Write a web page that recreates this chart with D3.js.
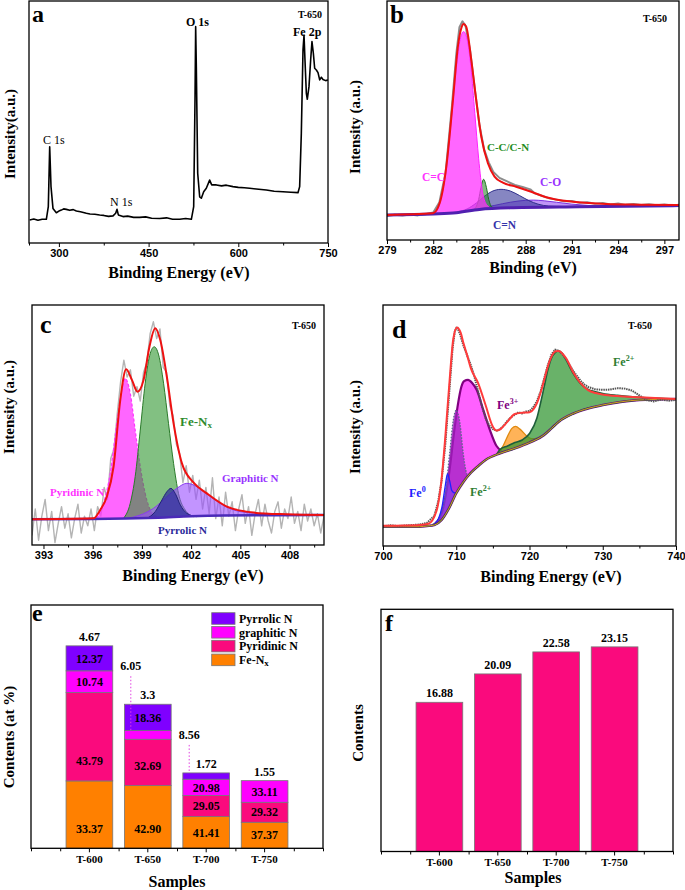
<!DOCTYPE html>
<html>
<head>
<meta charset="utf-8">
<script src="https://cdn.jsdelivr.net/npm/d3@7"></script>
<style>
body { margin: 0; background: #fff; }
svg { display: block; }
text { font-family: "Liberation Serif", "Times New Roman", serif; font-weight: bold; }
.xaxis .tick text { font-family: "Liberation Sans", Arial, sans-serif; font-size: 11px; font-weight: bold; }
.cat .tick text { font-family: "Liberation Serif", serif; font-size: 11px; font-weight: bold; }
</style>
</head>
<body>
<div id="fig"></div>
<script>
// ---------- data ----------
// a: survey spectrum [eV, intensity]
var surveyA = [[251.1,9.5],[258,9.9],[265,9.4],[272,9.8],[279,9.8],[282.3,15],[284.6,39.8],[286.8,23.3],[290.1,14.3],[295.7,12.5],[300,13.2],[304.1,13.6],[308,14.1],[312.4,13.9],[318,13.5],[324,13.8],[329.2,13.2],[336,12.9],[345.9,12.3],[352,12],[360,11.9],[368.2,11.6],[375,11.4],[383,11],[390.5,11.2],[394.9,12.3],[397.2,13.9],[399.4,11.6],[407.2,10.9],[415,11.1],[425,10.6],[435.1,10.6],[445,10.8],[455,10.2],[468.5,10.1],[480,10.4],[490,9.8],[502,9.8],[512,10.1],[521.5,9.8],[525.4,15],[527.6,59.1],[528.7,89.4],[529.8,72.9],[532.1,28.8],[535.4,19.1],[538.2,18.5],[542.1,21.2],[546.5,22.6],[552.1,26],[555.5,24],[563.3,24],[572,23.6],[580,23.9],[591.1,23.3],[600,23],[610,22.8],[619,22.6],[630,22.3],[646.9,21.9],[660,21.4],[674.7,21.2],[688,21],[699.8,20.8],[702.6,23.3],[705.4,45.3],[708.2,79.8],[709.9,85.9],[711.5,75.6],[713.8,61.8],[715.4,59.4],[718.2,64.6],[721,75.6],[723.2,83.2],[725.5,78.4],[727.7,72.2],[730.5,71.5],[733.3,70.4],[736.1,67.4],[738.9,68.5],[741.6,67.6],[746.1,67.1],[750,67.4]];

// b: C 1s
var rawB = [[279,10],[279.5,10.6],[280,10.2],[280.5,10.7],[281,10.3],[281.5,10.8],[282,11.5],[282.4,15.8],[282.8,28],[283.2,55],[283.5,78],[283.7,89],[283.9,91.5],[284.1,89.5],[284.4,79],[284.7,63],[285,48],[285.3,38],[285.6,32.5],[285.9,28.5],[286.3,26],[286.8,24.5],[287.3,23],[287.8,22.2],[288.3,21.2],[288.6,19.5],[289,18.6],[289.5,17.5],[290,16.9],[290.5,16.2],[291,16.3],[291.5,15.6],[292,15.8],[292.5,15.2],[293,15.5],[293.5,14.9],[294,15.3],[294.5,14.7],[295,15.1],[295.5,14.6],[296,15],[296.5,14.5],[297,14.9],[297.5,14.4],[298,14.8]];
var fitB = [[279,10.5],[281.98,11.2],[282.41,15.3],[282.85,30.7],[283.28,58.6],[283.6,80.9],[283.82,88.6],[283.97,90.4],[284.14,89.3],[284.47,75.3],[284.79,58.6],[285.12,43.2],[285.55,32.1],[285.98,26.5],[286.52,24],[287.38,22.3],[288.36,20.2],[289.33,17.9],[291.06,16],[293.22,15.1],[295.38,14.8],[298,14.6]];
var bgB = [[279,10.5],[282,10.9],[283.5,11.4],[285,12.8],[287.2,13.5],[291.5,13.9],[298,14.4]];
var ccB = [[282,11],[282.3,13],[282.6,20],[282.9,33],[283.2,52],[283.5,72],[283.75,84],[283.97,87.2],[284.2,84],[284.45,72],[284.7,53],[284.95,34],[285.2,20],[285.5,14.5],[285.8,13.3]];
var ccnB = [[284.5,12.3],[284.75,13.5],[284.95,17],[285.1,22],[285.27,25.4],[285.45,22],[285.6,17],[285.8,13.8],[286.1,13.2]];
var cnB = [[283,11.2],[283.6,11.8],[284.2,13],[284.8,15.5],[285.3,18.2],[285.8,20.3],[286.4,21.2],[287,20.5],[287.6,18.6],[288.2,16.5],[288.8,15],[289.5,14.2],[290.5,14],[291.5,13.9]];
var coB = [[284,12],[285,13.2],[286,14.5],[287,15.8],[288,16.6],[288.5,16.7],[289.2,16.4],[290,15.8],[291,15],[292,14.5],[293,14.2],[294,14.3],[295.5,14.5]];

// c: N 1s
var rawC = [[392.3,4],[392.5,15],[392.7,2],[392.9,12],[393.1,19],[393.3,6],[393.5,14],[393.7,1],[393.9,9],[394.1,16],[394.3,7],[394.5,13],[394.7,3],[394.9,11],[395.1,17],[395.3,5],[395.5,12],[395.7,8],[395.9,15],[396.1,6],[396.3,16],[396.5,12],[396.7,24],[396.9,19],[397.1,36],[397.3,40],[397.5,55],[397.7,68],[397.9,77],[398.1,70],[398.3,73],[398.5,62],[398.7,66],[398.9,60],[399.1,72],[399.3,76],[399.5,88],[399.7,93],[399.9,86],[400.1,90],[400.3,74],[400.5,72],[400.7,58],[400.9,54],[401.1,42],[401.3,38],[401.5,26],[401.7,33],[401.9,22],[402.1,29],[402.3,19],[402.5,27],[402.7,15],[402.9,24],[403.1,13],[403.3,28],[403.5,11],[403.7,20],[403.9,8],[404.1,22],[404.3,12],[404.5,18],[404.7,6],[404.9,15],[405.1,21],[405.3,9],[405.5,16],[405.7,4],[405.9,13],[406.1,19],[406.3,8],[406.5,17],[406.7,10],[406.9,5],[407.1,14],[407.3,18],[407.5,7],[407.7,15],[407.9,11],[408.1,20],[408.3,9],[408.5,14],[408.7,6],[408.9,17],[409.1,10],[409.3,15],[409.5,8],[409.7,13],[409.9,5],[410.1,12]];
var fitC = [[392.29,10.7],[396.05,11.1],[396.46,14.6],[396.86,20.1],[397.27,32.6],[397.68,60.4],[398.04,73.2],[398.39,68.8],[398.73,63.9],[399.1,68.8],[399.46,82.6],[399.81,90.3],[400.12,85.4],[400.52,70.1],[400.93,50.7],[401.44,34],[402.15,26],[402.96,21.5],[404.18,16],[405.81,13.5],[407.84,12.8],[410.12,12.5]];
var bgC = [[392.3,10.7],[396,10.8],[398,11],[400,11.4],[402,12],[404,12.3],[410.1,12.5]];
var pyridinicC = [[396.25,11.1],[396.66,17.4],[397.07,29.9],[397.47,50.7],[397.78,64.6],[397.98,69.4],[398.29,63.2],[398.59,47.9],[398.9,32.6],[399.2,21.5],[399.51,14.6],[399.91,11.8]];
var fenxC = [[397.88,11.1],[398.29,17.4],[398.59,28.5],[398.9,47.9],[399.2,67.4],[399.51,79.9],[399.75,82.6],[400.02,79.2],[400.32,67.4],[400.62,50.7],[400.93,34],[401.23,21.5],[401.64,14.6],[402.15,11.8]];
var pyrrolicC = [[399.3,11.1],[399.81,13.9],[400.22,18.75],[400.52,22.2],[400.77,23.6],[401.03,21.5],[401.34,16.7],[401.74,13.2],[402.35,11.8]];
var graphiticC = [[398.08,11.1],[398.9,12.5],[399.71,15.3],[400.52,20.1],[401.13,23.6],[401.74,25.7],[402.35,24.3],[402.96,21.25],[403.77,17.4],[404.59,14.6],[405.81,13.2],[407.43,12.5]];

// d: Fe 2p
var rawD = [[700,8.2],[701,8.6],[702,8.3],[703,8.5],[704,8.7],[705,8.9],[706,9.6],[707,12.5],[707.5,18],[708,27],[708.5,42],[709,62],[709.5,82],[709.8,89],[710.1,91],[710.5,88],[711,83],[711.5,79],[712,75],[712.5,70],[713,64],[713.5,58],[714,53],[714.5,50],[715,48.5],[715.5,47.8],[716,48.5],[716.5,50],[717,52],[717.5,53.5],[718,54.5],[718.5,55.5],[719,55],[719.5,55.8],[720,56],[720.5,57.5],[721,60],[721.5,64],[722,69.5],[722.5,75],[723,79.5],[723.5,81.5],[724,81],[724.5,79.5],[725,77.5],[725.5,75],[726,72.5],[726.5,70.5],[727,68.5],[727.5,67],[728,66],[729,65],[730,64.8],[731,64.9],[732,65.5],[733,65.3],[734,64.5],[735,62.5],[736,60.5],[737,60],[738,60.8],[739,60.3],[740,60.6]];
var fitD = [[700,8.4],[703,8.5],[705,8.7],[706.2,9.2],[707.3,14.5],[707.9,25],[708.5,45],[709.1,69],[709.6,86],[710.1,90.7],[710.6,88.5],[711,84],[711.5,79],[712,73.7],[713,67.5],[714,58.5],[715,49.5],[715.5,47.9],[716,48.4],[717,51.6],[718,54.8],[719,55.3],[720,55.5],[720.6,57],[721,59.2],[721.5,63.5],[722,68.9],[722.5,74.5],[723,78.6],[723.6,80.8],[724,80.9],[724.5,79.8],[725,77.9],[726,71.9],[727,67.5],[728,64.7],[729,63.5],[730,62.9],[732,62.2],[735,61.7],[740,61]];
var bgD = [[700,8],[705,8],[706,8.3],[707,8.7],[708,10.8],[709,15.6],[710,21.9],[711,26.7],[712,30.4],[713,33.2],[714,35.7],[716,38.5],[718,40.5],[720,42.9],[722,46.1],[723,48.8],[724,51.6],[726,55],[728,57.1],[730,58.5],[735,60.6],[740,61]];
var fe0D = [[707,9.2],[707.6,11.5],[708.1,17],[708.5,25],[708.8,29.9],[709.1,27],[709.4,23],[709.8,22],[710.2,22.5]];
var fe2aD = [[706.8,9],[707.75,12.2],[708.45,20.5],[709.1,38.5],[709.6,52.3],[710,56.4],[710.5,51],[710.95,38.5],[711.3,31.5],[711.6,28.5]];
var fe3D = [[707,9],[708,13.6],[708.9,27.4],[709.8,49.5],[710.25,59.2],[710.7,66.1],[711.1,68.5],[711.6,68.9],[712.2,67.5],[712.8,64.7],[713.7,56.4],[714.6,48.1],[715.5,41.5],[716.2,39.4]];
var satD = [[715.5,38.3],[716.3,41],[717,45.5],[717.6,48.8],[718.1,49.6],[718.7,48.5],[719.5,46],[720.3,44.5],[721,44.6],[722,46.1]];
var fe2bD = [[715.5,37.8],[716,40.1],[717,41.5],[718,42.9],[719,44],[720,46.7],[721,53],[721.5,59.2],[722,66.1],[722.5,73],[723,77.9],[723.5,80.2],[724,80.9],[724.5,79.9],[725,77.2],[726,71.4],[727,67.2],[728,65],[729,64],[730,63.3],[732,62.5],[735,61.7],[740,61]];

// e: N species, bar heights (at %) and printed labels
var samples = ["T-600", "T-650", "T-700", "T-750"];
var nKeys = ["feNx", "pyridinic", "graphitic", "pyrrolic"];
var feNx = [33.37, 31.05, 15.7, 12.9];
var pyridinic = [43.79, 22.96, 10.4, 9.9];
var graphitic = [10.74, 4.29, 8.1, 10.7];
var pyrrolic = [12.37, 13.05, 3.14, 0];
var feNxLbl = ["33.37", "42.90", "41.41", "37.37"];
var pyridinicLbl = ["43.79", "32.69", "29.05", "29.32"];
var graphiticLbl = ["10.74", "", "20.98", "33.11"];
var pyrrolicLbl = ["12.37", "18.36", "", ""];
var topLbl = ["4.67", "3.3", "1.72", "1.55"];
var leaderLbl = ["", "6.05", "8.56", ""];
var leaderKey = ["", "graphitic", "pyrrolic", ""];
var legendNames = ["Pyrrolic N", "graphitic N", "Pyridinic N", "Fe-Nx"];

// f
var contentsF = [16.88, 20.09, 22.58, 23.15];

// ---------- drawing ----------
var svg = d3.select("#fig").append("svg").attr("width", 685).attr("height", 890);
var defs = svg.append("defs");
var uid = 0;

function panel(box, dom, yTop) {
  var p = { box: box };
  p.x = d3.scaleLinear().domain(dom).range([box[0], box[2]]);
  p.y = d3.scaleLinear().domain([0, yTop || 100]).range([box[3], box[1]]);
  var id = "clip" + (uid++);
  defs.append("clipPath").attr("id", id).append("rect")
    .attr("x", box[0]).attr("y", box[1]).attr("width", box[2] - box[0]).attr("height", box[3] - box[1]);
  p.g = svg.append("g").attr("clip-path", "url(#" + id + ")");
  return p;
}

function frame(p) {
  svg.append("rect").attr("x", p.box[0]).attr("y", p.box[1])
    .attr("width", p.box[2] - p.box[0]).attr("height", p.box[3] - p.box[1])
    .attr("fill", "none").attr("stroke", "#000").attr("stroke-width", 1.3);
}

function energyAxis(p, majors, minors) {
  svg.append("g").attr("class", "xaxis").attr("transform", "translate(0," + p.box[3] + ")")
    .call(d3.axisBottom(p.x).tickValues(minors).tickSize(2.5).tickFormat(""))
    .call(function (g) { g.select(".domain").remove(); });
  svg.append("g").attr("class", "xaxis").attr("transform", "translate(0," + p.box[3] + ")")
    .call(d3.axisBottom(p.x).tickValues(majors).tickSize(4).tickPadding(2).tickFormat(d3.format("d")))
    .call(function (g) { g.select(".domain").remove(); });
}

function txt(s, x, y, size, color, anchor, weight) {
  return svg.append("text").attr("x", x).attr("y", y)
    .attr("text-anchor", anchor || "start")
    .style("font-size", size + "px").style("fill", color || "#000")
    .style("font-weight", weight || "bold").text(s);
}

function ytitle(s, x, y, size) {
  svg.append("text").attr("transform", "translate(" + x + "," + y + ") rotate(-90)")
    .attr("text-anchor", "middle").attr("dominant-baseline", "central")
    .style("font-size", size + "px").text(s);
}

function drawLine(p, pts, color, width, curve, dash) {
  p.g.append("path").datum(pts)
    .attr("d", d3.line().x(function (d) { return p.x(d[0]); }).y(function (d) { return p.y(d[1]); })
      .curve(curve || d3.curveLinear))
    .attr("fill", "none").attr("stroke", color).attr("stroke-width", width)
    .attr("stroke-dasharray", dash || null).attr("stroke-linejoin", "round");
}

function comp(p, bg, pts, fill, op, stroke, sw, dash) {
  var base = d3.scaleLinear().domain(bg.map(function (d) { return d[0]; }))
    .range(bg.map(function (d) { return d[1]; })).clamp(true);
  p.g.append("path").datum(pts)
    .attr("d", d3.area().x(function (d) { return p.x(d[0]); })
      .y0(function (d) { return p.y(base(d[0])); })
      .y1(function (d) { return p.y(d[1]); }).curve(d3.curveMonotoneX))
    .attr("fill", fill).attr("fill-opacity", op).attr("stroke", "none");
  if (stroke) drawLine(p, pts, stroke, sw, d3.curveMonotoneX, dash);
}

// ----- a -----
var pa = panel([29, 1, 328, 243], [250, 750]);
drawLine(pa, surveyA, "#000", 1.6);
frame(pa);
energyAxis(pa, [300, 450, 600, 750], [250, 375, 525, 675]);
txt("a", 32, 22, 24, "#000");
txt("T-650", 298, 18, 10);
txt("O 1s", 186, 26, 12);
txt("Fe 2p", 293, 36, 12);
txt("C 1s", 43, 144, 12, "#000", "start", "normal");
txt("N 1s", 110, 206, 12, "#000", "start", "normal");
txt("Binding Energy (eV)", 179, 278, 16, "#000", "middle");
ytitle("Intensity(a.u.)", 10, 134, 15);

// ----- b -----
var pb = panel([387, 1, 679, 240], [279, 297.95]);
drawLine(pb, rawB, "#8c8c8c", 2);
comp(pb, bgB, coB, "#8a3cf0", 0.55, "#7a30e0", 1);
comp(pb, bgB, cnB, "#35359a", 0.6, "#2f2f8a", 1);
comp(pb, bgB, ccnB, "#2e8b2e", 0.6, "#1f6f1f", 1);
comp(pb, bgB, ccB, "#ff33ff", 0.75, "#ff22ff", 1);
drawLine(pb, bgB, "#5020b0", 3, d3.curveMonotoneX);
drawLine(pb, fitB, "#ee1111", 2, d3.curveMonotoneX);
frame(pb);
energyAxis(pb, [279, 282, 285, 288, 291, 294, 297], [280.5, 283.5, 286.5, 289.5, 292.5, 295.5]);
txt("b", 390, 23, 25);
txt("T-650", 643, 22, 10);
txt("C=C", 422, 181, 11.5, "#ff33ff");
txt("C-C/C-N", 487, 151, 11, "#228b22");
txt("C-O", 540, 186, 11.5, "#9933ff");
txt("C=N", 493, 229, 11.5, "#3333aa");
txt("Binding (eV)", 533, 273, 16, "#000", "middle");
ytitle("Intensity (a.u.)", 355, 127, 15);

// ----- c -----
var pc = panel([32, 305, 324, 545], [392.3, 410.1]);
drawLine(pc, rawC, "#b4b4b4", 1.4);
comp(pc, bgC, pyridinicC, "#ff33ff", 0.75, "#ff33ff", 1.2, "3,2");
comp(pc, bgC, fenxC, "#2f962f", 0.6, "#2a7a2a", 1);
comp(pc, bgC, graphiticC, "#9a4cff", 0.6, "#8a3cf0", 1);
comp(pc, bgC, pyrrolicC, "#2a2a9a", 0.7, "#22227a", 1);
drawLine(pc, bgC, "#4a2ab8", 2.5, d3.curveMonotoneX);
drawLine(pc, fitC, "#ee1111", 2, d3.curveMonotoneX);
frame(pc);
energyAxis(pc, [393, 396, 399, 402, 405, 408], [394.5, 397.5, 400.5, 403.5, 406.5, 409.5]);
txt("c", 40, 333, 26);
txt("T-650", 292, 329, 10);
var fenxLabel = txt("Fe-N", 180, 426, 13, "#2e8b2e");
fenxLabel.append("tspan").attr("dy", 2).style("font-size", "9px").text("x");
txt("Graphitic N", 222, 482, 11, "#9933ff");
txt("Pyridinic N", 50, 496, 11, "#ff33ff");
txt("Pyrrolic N", 158, 534, 11, "#2a2a9a");
txt("Binding Energy (eV)", 193, 581, 16, "#000", "middle");
ytitle("Intensity (a.u.)", 9, 407, 15);

// ----- d -----
var pd = panel([383, 305, 676, 546], [700, 740]);
comp(pd, bgD, fe3D, "#ff44ff", 0.85, "#800080", 2.2);
comp(pd, bgD, fe2aD, "#a020c0", 0.75, "#5a6a8a", 1.3, "1.5,1.5");
comp(pd, bgD, fe0D, "#5050ff", 0.35, "#2020ff", 1.3);
comp(pd, bgD, satD, "#ff9a20", 0.75, "#e08a10", 1.3);
comp(pd, bgD, fe2bD, "#2f942f", 0.72, "#1e5e3a", 1.6);
drawLine(pd, bgD, "#7a108a", 2.6, d3.curveMonotoneX);
drawLine(pd, bgD, "#1e5e3a", 1.6, d3.curveMonotoneX);
drawLine(pd, bgD, "#f0a020", 0.9, d3.curveMonotoneX);
drawLine(pd, rawD, "#555", 2, d3.curveLinear, "1.5,0.8");
drawLine(pd, fitD, "#ff3b3b", 2, d3.curveMonotoneX);
frame(pd);
energyAxis(pd, [700, 710, 720, 730, 740], [705, 715, 725, 735]);
txt("d", 392, 338, 26);
txt("T-650", 628, 329, 10);
function ion(base, sup, x, y, color) {
  var t = txt(base, x, y, 12, color);
  t.append("tspan").attr("dy", -5).style("font-size", "8px").text(sup);
}
ion("Fe", "2+", 613, 366, "#2e7d32");
ion("Fe", "3+", 497, 409, "#800080");
ion("Fe", "0", 409, 497, "#2020ff");
ion("Fe", "2+", 470, 496, "#2e7d32");
txt("Binding Energy (eV)", 551, 582, 16, "#000", "middle");
ytitle("Intensity (a.u.)", 355, 427, 15);

// ----- e -----
var boxE = [31, 605, 323, 848.3];
var xE = d3.scaleBand().domain(samples).range([boxE[0], boxE[2]]).paddingInner(0.2).paddingOuter(0.6);
var yE = d3.scaleLinear().domain([0, 120.5]).range([boxE[3], boxE[1]]);
var series = { feNx: feNx, pyridinic: pyridinic, graphitic: graphitic, pyrrolic: pyrrolic };
var labels = { feNx: feNxLbl, pyridinic: pyridinicLbl, graphitic: graphiticLbl, pyrrolic: pyrrolicLbl };
var colors = { feNx: "#ff8000", pyridinic: "#fa0a7d", graphitic: "#ff00ff", pyrrolic: "#7f00ff" };
var rows = samples.map(function (s, i) {
  var r = { sample: s };
  nKeys.forEach(function (k) { r[k] = series[k][i]; });
  return r;
});
var stacked = d3.stack().keys(nKeys)(rows);
var gE = svg.append("g");
stacked.forEach(function (layer) {
  gE.selectAll(null).data(layer).enter().append("rect")
    .attr("x", function (d) { return xE(d.data.sample); })
    .attr("width", xE.bandwidth())
    .attr("y", function (d) { return yE(d[1]); })
    .attr("height", function (d) { return yE(d[0]) - yE(d[1]); })
    .attr("fill", colors[layer.key]).attr("stroke", "#777").attr("stroke-width", 0.8);
});
stacked.forEach(function (layer) {
  layer.forEach(function (d, i) {
    var s = labels[layer.key][i];
    if (!s) return;
    var mid = (yE(d[0]) + yE(d[1])) / 2;
    var yy = Math.max(mid, yE(d[0]) - 20);
    gE.append("text").attr("x", xE(d.data.sample) + xE.bandwidth() / 2).attr("y", yy)
      .attr("dy", "0.35em").attr("text-anchor", "middle").style("font-size", "12px").text(s);
  });
});
var topLayer = stacked[stacked.length - 1];
samples.forEach(function (s, i) {
  var cx = xE(s) + xE.bandwidth() / 2;
  var top = yE(topLayer[i][1]);
  gE.append("text").attr("x", cx).attr("y", top - 5).attr("text-anchor", "middle")
    .style("font-size", "12px").text(topLbl[i]);
  if (leaderLbl[i]) {
    var li = nKeys.indexOf(leaderKey[i]);
    var target = yE(stacked[li][i][1]);
    gE.append("text").attr("x", cx - 17).attr("y", top - 34).attr("text-anchor", "middle")
      .style("font-size", "12px").text(leaderLbl[i]);
    gE.append("line").attr("x1", cx - 17).attr("x2", cx - 17)
      .attr("y1", top - 28).attr("y2", target)
      .attr("stroke", "#e040e0").attr("stroke-width", 1).attr("stroke-dasharray", "1.5,2");
  }
});
// legend
var legKeys = ["pyrrolic", "graphitic", "pyridinic", "feNx"];
legKeys.forEach(function (k, i) {
  var yy = 612.7 + i * 13.8;
  svg.append("rect").attr("x", 211.7).attr("y", yy).attr("width", 23.3).attr("height", 11.6)
    .attr("fill", colors[k]).attr("stroke", "#777").attr("stroke-width", 0.8);
  var t = txt(legendNames[i].replace("Nx", "N"), 239, yy + 10, 12);
  if (k === "feNx") t.append("tspan").attr("dy", 2).style("font-size", "9px").text("x");
});
svg.append("rect").attr("x", boxE[0]).attr("y", boxE[1]).attr("width", boxE[2] - boxE[0])
  .attr("height", boxE[3] - boxE[1]).attr("fill", "none").attr("stroke", "#000").attr("stroke-width", 1.3);
var halfE = d3.scaleLinear().domain([0, 5]).range([boxE[0], boxE[2]]);
svg.append("g").attr("transform", "translate(0," + boxE[3] + ")")
  .call(d3.axisBottom(halfE).tickValues([0, 0.5, 1.5, 2.5, 3.5, 4.5, 5]).tickSize(3).tickFormat(""))
  .call(function (g) { g.select(".domain").remove(); });
svg.append("g").attr("class", "cat").attr("transform", "translate(0," + boxE[3] + ")")
  .call(d3.axisBottom(xE).tickSize(4).tickPadding(3))
  .call(function (g) { g.select(".domain").remove(); });
txt("e", 32, 621, 24);
txt("Samples", 177, 887, 16, "#000", "middle");
ytitle("Contents (at %)", 9, 737, 15);

// ----- f -----
var boxF = [381, 609.3, 673, 851.5];
var xF = d3.scaleBand().domain(samples).range([boxF[0], boxF[2]]).paddingInner(0.2).paddingOuter(0.6);
var yF = d3.scaleLinear().domain([0, 27.4]).range([boxF[3], boxF[1]]);
var gF = svg.append("g");
gF.selectAll("rect").data(contentsF).enter().append("rect")
  .attr("x", function (d, i) { return xF(samples[i]); })
  .attr("width", xF.bandwidth())
  .attr("y", function (d) { return yF(d); })
  .attr("height", function (d) { return yF(0) - yF(d); })
  .attr("fill", "#fa0a7d").attr("stroke", "#777").attr("stroke-width", 0.8);
gF.selectAll("text").data(contentsF).enter().append("text")
  .attr("x", function (d, i) { return xF(samples[i]) + xF.bandwidth() / 2; })
  .attr("y", function (d) { return yF(d) - 5; })
  .attr("text-anchor", "middle").style("font-size", "12px")
  .text(function (d) { return d3.format(".2f")(d); });
svg.append("rect").attr("x", boxF[0]).attr("y", boxF[1]).attr("width", boxF[2] - boxF[0])
  .attr("height", boxF[3] - boxF[1]).attr("fill", "none").attr("stroke", "#000").attr("stroke-width", 1.3);
var halfF = d3.scaleLinear().domain([0, 5]).range([boxF[0], boxF[2]]);
svg.append("g").attr("transform", "translate(0," + boxF[3] + ")")
  .call(d3.axisBottom(halfF).tickValues([0, 0.5, 1.5, 2.5, 3.5, 4.5, 5]).tickSize(3).tickFormat(""))
  .call(function (g) { g.select(".domain").remove(); });
svg.append("g").attr("class", "cat").attr("transform", "translate(0," + boxF[3] + ")")
  .call(d3.axisBottom(xF).tickSize(4).tickPadding(3))
  .call(function (g) { g.select(".domain").remove(); });
txt("f", 385, 631, 24);
txt("Samples", 533, 883, 16, "#000", "middle");
ytitle("Contents", 358, 733, 15);
</script>
</body>
</html>
